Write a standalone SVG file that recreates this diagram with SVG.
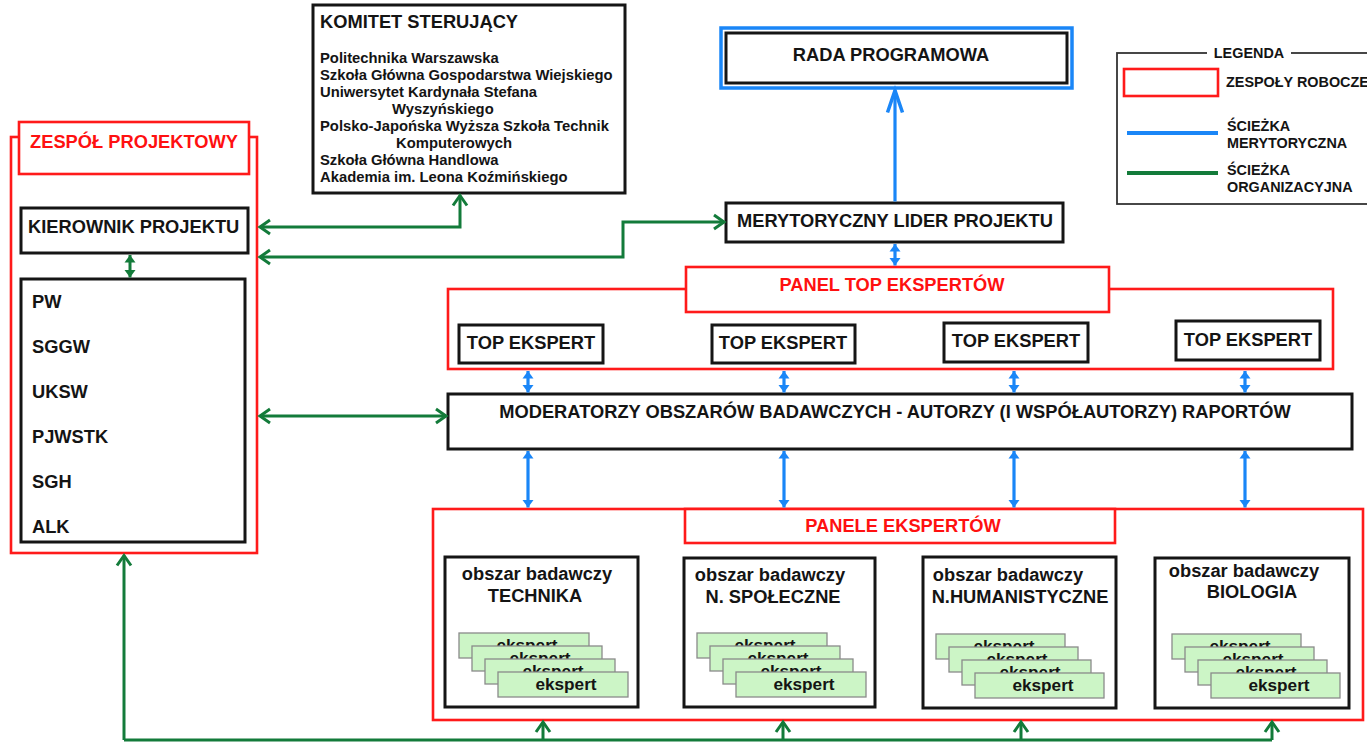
<svg xmlns="http://www.w3.org/2000/svg" width="1367" height="742" viewBox="0 0 1367 742">
<defs>
<style>
text{font-family:"Liberation Sans",Arial,sans-serif;font-weight:bold;fill:#141414}
.t18{font-size:18.3px}
.t15{font-size:14.8px}
.t14{font-size:14.4px}
.mid{text-anchor:middle}
.red{fill:#ff1010}
.bx{fill:#fff;stroke:#151515;stroke-width:3}
.rb{fill:none;stroke:#ff1a1a;stroke-width:2.6}
.rbw{fill:#fff;stroke:#ff1a1a;stroke-width:2.6}
.card{fill:#ccf5c6;stroke:#8a8a8a;stroke-width:1.3}
.ck{font-size:17.2px}
.g{fill:none;stroke:#137b3a;stroke-width:3}
.b{fill:none;stroke:#1a86f7;stroke-width:3.2}
</style>
<marker id="gA" markerUnits="userSpaceOnUse" markerWidth="20" markerHeight="20" refX="0" refY="0" viewBox="-12 -10 14 20" orient="auto-start-reverse" overflow="visible">
<path d="M-10,-7 L0,0 L-10,7" fill="none" stroke="#137b3a" stroke-width="3" stroke-linejoin="miter"/>
</marker>
<marker id="gS" markerUnits="userSpaceOnUse" markerWidth="14" markerHeight="14" refX="0" refY="0" viewBox="-9 -7 11 14" orient="auto-start-reverse" overflow="visible">
<path d="M-7.5,-5.5 L0,0 L-7.5,5.5 Z" fill="#137b3a"/>
</marker>
<marker id="bS" markerUnits="userSpaceOnUse" markerWidth="14" markerHeight="14" refX="0" refY="0" viewBox="-9 -7 11 14" orient="auto-start-reverse" overflow="visible">
<path d="M-7.5,-5.5 L0,0 L-7.5,5.5 Z" fill="#1a86f7"/>
</marker>
<marker id="bB" markerUnits="userSpaceOnUse" markerWidth="30" markerHeight="20" refX="0" refY="0" viewBox="-26 -10 28 20" orient="auto" overflow="visible">
<path d="M-22,-7.5 L0,0 L-22,7.5" fill="none" stroke="#1a86f7" stroke-width="3.5"/>
</marker>
</defs>
<rect width="1367" height="742" fill="#fff"/>

<g id="legend">
<rect x="1117" y="53" width="262" height="151" fill="none" stroke="#333" stroke-width="1.8"/>
<rect x="1207" y="46" width="84" height="14" fill="#fff"/>
<text class="t14 mid" x="1249" y="58">LEGENDA</text>
<rect x="1124" y="69" width="94" height="27" fill="none" stroke="#ff1a1a" stroke-width="2.6"/>
<text class="t14" x="1226" y="87">ZESPOŁY ROBOCZE</text>
<line x1="1127" y1="133" x2="1218" y2="133" stroke="#1a86f7" stroke-width="4"/>
<text class="t14" x="1227" y="131">ŚCIEŻKA</text>
<text class="t14" x="1227" y="148">MERYTORYCZNA</text>
<line x1="1127" y1="173" x2="1218" y2="173" stroke="#137b3a" stroke-width="4"/>
<text class="t14" x="1227" y="175">ŚCIEŻKA</text>
<text class="t14" x="1227" y="192">ORGANIZACYJNA</text>
</g>

<g id="komitet">
<rect class="bx" x="313" y="5" width="312" height="188"/>
<text class="t18" x="320" y="28">KOMITET STERUJĄCY</text>
<text class="t15" x="320" y="63">Politechnika Warszawska</text>
<text class="t15" x="320" y="80">Szkoła Główna Gospodarstwa Wiejskiego</text>
<text class="t15" x="320" y="97">Uniwersytet Kardynała Stefana</text>
<text class="t15" x="392" y="114">Wyszyńskiego</text>
<text class="t15" x="320" y="131">Polsko-Japońska Wyższa Szkoła Technik</text>
<text class="t15" x="396" y="148">Komputerowych</text>
<text class="t15" x="320" y="165">Szkoła Główna Handlowa</text>
<text class="t15" x="320" y="182">Akademia im. Leona Koźmińskiego</text>
</g>

<g id="zespol-projektowy">
<rect class="rb" x="11" y="137" width="246" height="416"/>
<rect class="rbw" x="19" y="122" width="230" height="52"/>
<text class="t18 mid red" x="134" y="148">ZESPÓŁ PROJEKTOWY</text>
</g>
<g id="kierownik">
<rect class="bx" x="21" y="208" width="227" height="45"/>
<text class="t18" x="28" y="233">KIEROWNIK PROJEKTU</text>
</g>
<g id="uczelnie">
<rect class="bx" x="21" y="279" width="224" height="263"/>
<text class="t18" x="32" y="308">PW</text>
<text class="t18" x="32" y="353">SGGW</text>
<text class="t18" x="32" y="398">UKSW</text>
<text class="t18" x="32" y="443">PJWSTK</text>
<text class="t18" x="32" y="488">SGH</text>
<text class="t18" x="32" y="533">ALK</text>
</g>

<g id="rada">
<rect x="721" y="28" width="351" height="60" fill="#fff" stroke="#1a86f7" stroke-width="3.5"/>
<rect class="bx" x="726" y="33" width="341" height="50"/>
<text class="t18 mid" x="891" y="61">RADA PROGRAMOWA</text>
</g>
<g id="lider">
<rect class="bx" x="726" y="203" width="337" height="39"/>
<text class="t18 mid" x="895" y="227">MERYTORYCZNY LIDER PROJEKTU</text>
</g>

<g id="panel-top">
<rect class="rb" x="448" y="289" width="885" height="80"/>
<rect class="rbw" x="686" y="267" width="423" height="45"/>
<text class="t18 mid red" x="892" y="291">PANEL TOP EKSPERTÓW</text>
</g>
<g id="top1"><rect class="bx" x="459" y="325" width="144" height="38"/><text class="t18 mid" x="531" y="349">TOP EKSPERT</text></g>
<g id="top2"><rect class="bx" x="712" y="325" width="143" height="38"/><text class="t18 mid" x="783" y="349">TOP EKSPERT</text></g>
<g id="top3"><rect class="bx" x="944" y="323" width="144" height="39"/><text class="t18 mid" x="1016" y="347">TOP EKSPERT</text></g>
<g id="top4"><rect class="bx" x="1176" y="321" width="144" height="39"/><text class="t18 mid" x="1248" y="346">TOP EKSPERT</text></g>

<g id="moderatorzy">
<rect class="bx" x="448" y="394" width="904" height="55"/>
<text class="t18 mid" x="895" y="418">MODERATORZY OBSZARÓW BADAWCZYCH - AUTORZY (I WSPÓŁAUTORZY) RAPORTÓW</text>
</g>

<g id="panele">
<rect class="rb" x="433" y="509" width="930" height="211"/>
<rect class="rbw" x="685" y="509" width="430" height="34"/>
<text class="t18 mid red" x="903" y="532">PANELE EKSPERTÓW</text>
</g>

<g id="obszar-technika">
<rect class="bx" x="445" y="557" width="193" height="150"/>
<text class="t18 mid" x="537" y="580">obszar badawczy</text>
<text class="t18 mid" x="535" y="602">TECHNIKA</text>
<rect class="card" x="459" y="633" width="130" height="25"/><text class="ck mid" x="527" y="651">ekspert</text>
<rect class="card" x="472" y="646" width="130" height="25"/><text class="ck mid" x="540" y="664">ekspert</text>
<rect class="card" x="485" y="659" width="130" height="25"/><text class="ck mid" x="553" y="677">ekspert</text>
<rect class="card" x="498" y="672" width="130" height="25"/><text class="ck mid" x="566" y="690">ekspert</text>
</g>
<g id="obszar-spoleczne">
<rect class="bx" x="684" y="558" width="191" height="149"/>
<text class="t18 mid" x="770" y="581">obszar badawczy</text>
<text class="t18 mid" x="773" y="603">N. SPOŁECZNE</text>
<rect class="card" x="697" y="633" width="130" height="25"/><text class="ck mid" x="765" y="651">ekspert</text>
<rect class="card" x="710" y="646" width="130" height="25"/><text class="ck mid" x="778" y="664">ekspert</text>
<rect class="card" x="723" y="659" width="130" height="25"/><text class="ck mid" x="791" y="677">ekspert</text>
<rect class="card" x="736" y="672" width="130" height="25"/><text class="ck mid" x="804" y="690">ekspert</text>
</g>
<g id="obszar-humanistyczne">
<rect class="bx" x="923" y="557" width="193" height="151"/>
<text class="t18 mid" x="1008" y="581">obszar badawczy</text>
<text class="t18 mid" x="1020" y="603">N.HUMANISTYCZNE</text>
<rect class="card" x="936" y="634" width="129" height="25"/><text class="ck mid" x="1004" y="652">ekspert</text>
<rect class="card" x="949" y="647" width="129" height="25"/><text class="ck mid" x="1017" y="665">ekspert</text>
<rect class="card" x="962" y="660" width="129" height="25"/><text class="ck mid" x="1030" y="678">ekspert</text>
<rect class="card" x="975" y="673" width="129" height="25"/><text class="ck mid" x="1043" y="691">ekspert</text>
</g>
<g id="obszar-biologia">
<rect class="bx" x="1155" y="558" width="194" height="150"/>
<text class="t18 mid" x="1244" y="577">obszar badawczy</text>
<text class="t18 mid" x="1252" y="598">BIOLOGIA</text>
<rect class="card" x="1172" y="634" width="129" height="25"/><text class="ck mid" x="1240" y="652">ekspert</text>
<rect class="card" x="1185" y="647" width="129" height="25"/><text class="ck mid" x="1253" y="665">ekspert</text>
<rect class="card" x="1198" y="660" width="129" height="25"/><text class="ck mid" x="1266" y="678">ekspert</text>
<rect class="card" x="1211" y="673" width="129" height="25"/><text class="ck mid" x="1279" y="691">ekspert</text>
</g>

<g id="connectors">
<path class="g" d="M260,227 H460 V195.5" marker-start="url(#gA)" marker-end="url(#gA)"/>
<path class="g" d="M260,257 H623 V222 H724" marker-start="url(#gA)" marker-end="url(#gA)"/>
<path class="g" d="M260,416 H446" marker-start="url(#gA)" marker-end="url(#gA)"/>
<path class="g" d="M130,255 V277.5" marker-start="url(#gS)" marker-end="url(#gS)"/>
<path class="g" d="M124,740 H1272"/>
<path class="g" d="M124,740 V555.5" marker-end="url(#gA)"/>
<path class="g" d="M543,740 V722" marker-end="url(#gA)"/>
<path class="g" d="M783,740 V722" marker-end="url(#gA)"/>
<path class="g" d="M1021,740 V722" marker-end="url(#gA)"/>
<path class="g" d="M1272,740 V722" marker-end="url(#gA)"/>
<path class="b" d="M895,201.5 V90.5" marker-end="url(#bB)"/>
<path class="b" d="M895,244 V265.5" marker-start="url(#bS)" marker-end="url(#bS)"/>
<path class="b" d="M528,371 V392.5" marker-start="url(#bS)" marker-end="url(#bS)"/>
<path class="b" d="M784,371 V392.5" marker-start="url(#bS)" marker-end="url(#bS)"/>
<path class="b" d="M1014,371 V392.5" marker-start="url(#bS)" marker-end="url(#bS)"/>
<path class="b" d="M1245,371 V392.5" marker-start="url(#bS)" marker-end="url(#bS)"/>
<path class="b" d="M528,451 V507.5" marker-start="url(#bS)" marker-end="url(#bS)"/>
<path class="b" d="M784,451 V507.5" marker-start="url(#bS)" marker-end="url(#bS)"/>
<path class="b" d="M1014,451 V507.5" marker-start="url(#bS)" marker-end="url(#bS)"/>
<path class="b" d="M1245,451 V507.5" marker-start="url(#bS)" marker-end="url(#bS)"/>
</g>
</svg>
